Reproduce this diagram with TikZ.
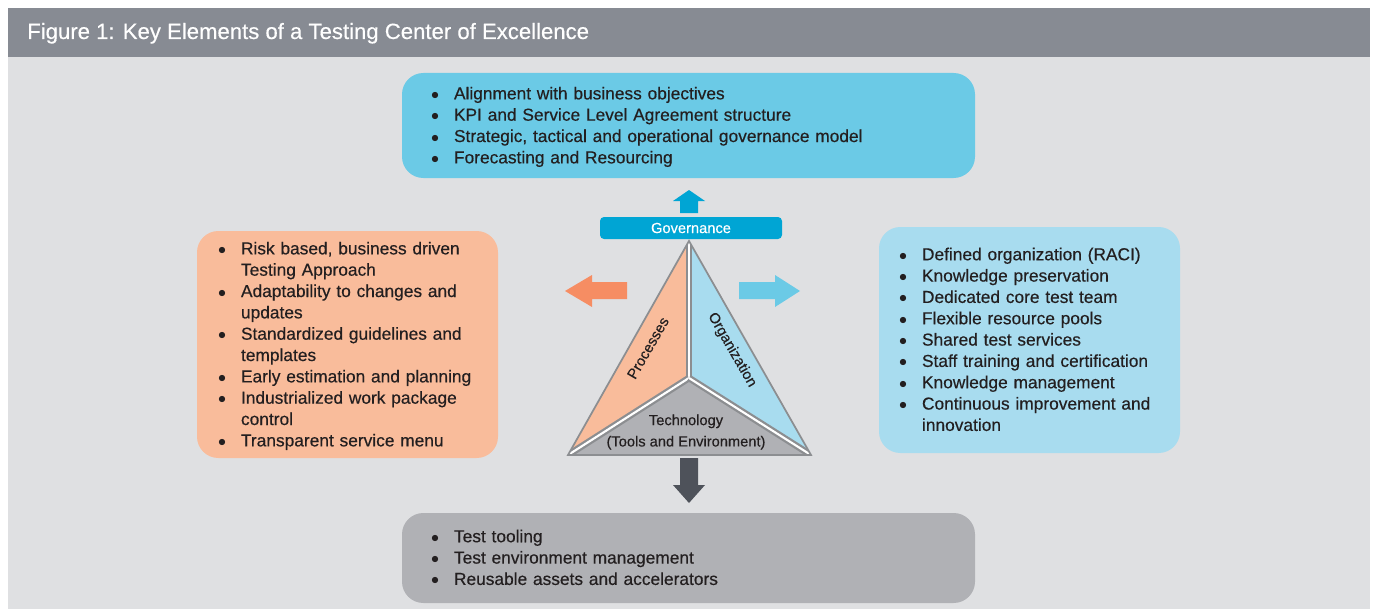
\documentclass[tikz,border=0pt]{standalone}
\usepackage{fontspec}
\setmainfont{Liberation Sans}[FakeBold=0.4]
\usepackage{tikz}

\definecolor{headgray}{HTML}{878B93}
\definecolor{panelgray}{HTML}{DFE0E2}
\definecolor{govblue}{HTML}{6BCAE6}
\definecolor{govdark}{HTML}{00A5D4}
\definecolor{procfill}{HTML}{F9BC9B}
\definecolor{procarrow}{HTML}{F68D63}
\definecolor{orgfill}{HTML}{A8DCEF}
\definecolor{orgarrow}{HTML}{6BCAE6}
\definecolor{techfill}{HTML}{B0B1B5}
\definecolor{techarrow}{HTML}{4E525A}
\definecolor{edgegray}{HTML}{8C8E91}
\definecolor{textdark}{HTML}{231F20}

\newcommand{\bitem}[1]{\par\hangindent=16.5pt\hangafter=1\noindent\hbox to 16.5pt{\hskip-0.6pt$\bullet$\hfil}#1}
\newcommand{\bend}[1]{\par\vspace*{#1}}

\tikzset{
  listbox/.style={rounded corners=16pt, inner sep=0pt, align=left,
    text=textdark, font=\fontsize{13}{16}\selectfont},
  trilabel/.style={inner sep=0pt, text=textdark, font=\fontsize{11}{16}\selectfont}
}

\begin{document}
\begin{tikzpicture}[x=0.75pt,y=-0.75pt]
\useasboundingbox (0,0) rectangle (1375,610);
\fill[white] (0,0) rectangle (1375,610);
\fill[panelgray] (8,57) rectangle (1370,609);
\fill[headgray] (8,8) rectangle (1370,57);
\node[anchor=base west, inner sep=0pt, text=white, font=\fontsize{16.6}{20}\selectfont]
  (title) at (27,39) {Figure 1: Key Elements of a Testing Center of Excellence};

\node[listbox, fill=govblue, minimum width=429.75pt, minimum height=78.75pt, text width=384.75pt]
  (govlist) at (688.5,125.5) {%
  \bitem{Alignment with business objectives}
  \bitem{KPI and Service Level Agreement structure}
  \bitem{Strategic, tactical and operational governance model}
  \bitem{Forecasting and Resourcing}\bend{4.5pt}};

\node[listbox, fill=procfill, minimum width=225.75pt, minimum height=170.25pt, text width=192.75pt]
  (proclist) at (347.5,344.5) {%
  \bitem{Risk based, business driven\newline Testing Approach}
  \bitem{Adaptability to changes and\newline updates}
  \bitem{Standardized guidelines and\newline templates}
  \bitem{Early estimation and planning}
  \bitem{Industrialized work package\newline control}
  \bitem{Transparent service menu}\bend{4.5pt}};

\node[listbox, fill=orgfill, minimum width=225.75pt, minimum height=169.5pt, text width=194.25pt]
  (orglist) at (1029.5,340) {%
  \bitem{Defined organization (RACI)}
  \bitem{Knowledge preservation}
  \bitem{Dedicated core test team}
  \bitem{Flexible resource pools}
  \bitem{Shared test services}
  \bitem{Staff training and certification}
  \bitem{Knowledge management}
  \bitem{Continuous improvement and\newline innovation}\bend{7.5pt}};

\node[listbox, fill=techfill, minimum width=429.75pt, minimum height=67.5pt, text width=384.75pt]
  (techlist) at (688.5,558) {%
  \bitem{Test tooling}
  \bitem{Test environment management}
  \bitem{Reusable assets and accelerators}\bend{7.5pt}};

\node[fill=govdark, rounded corners=3pt, inner sep=0pt, minimum width=136.5pt, minimum height=16.5pt,
  text=white, font=\fontsize{11}{13}\selectfont] (gov) at (691,228) {Governance};

\fill[govdark] (680,213) -- (680,201) -- (673,201) -- (689,190) -- (705,201) -- (698,201) -- (698,213) -- cycle;
\fill[procarrow] (627,282) -- (592,282) -- (592,275) -- (565,291) -- (592,307) -- (592,299) -- (627,299) -- cycle;
\fill[orgarrow] (739,282) -- (775,282) -- (775,275) -- (800,291) -- (775,307) -- (775,299) -- (739,299) -- cycle;
\fill[techarrow] (680,458) -- (698,458) -- (698,485) -- (705,485) -- (689,503) -- (673,485) -- (680,485) -- cycle;

\coordinate (apex) at (689,241);
\coordinate (bl) at (568,455);
\coordinate (br) at (811,455);
\coordinate (mid) at (689,378);
\fill[procfill] (apex) -- (mid) -- (bl) -- cycle;
\fill[orgfill] (apex) -- (br) -- (mid) -- cycle;
\fill[techfill] (bl) -- (mid) -- (br) -- cycle;
\begin{scope}
\clip (apex) -- (br) -- (bl) -- cycle;
\foreach \c in {apex,bl,br}{
  \draw[edgegray, line width=5pt] (mid) -- (\c);
  \draw[white, line width=1.6pt] (mid) -- (\c);
}
\end{scope}
\draw[edgegray, line width=1.3pt] (apex) -- (br) -- (bl) -- cycle;

\node[trilabel, rotate=60] (proc) at (648,348) {Processes};
\node[trilabel, rotate=-60] (org) at (732,350) {Organization};
\node[trilabel, align=center] (tech) at (686,432) {Technology\\(Tools and Environment)};
\end{tikzpicture}
\end{document}
